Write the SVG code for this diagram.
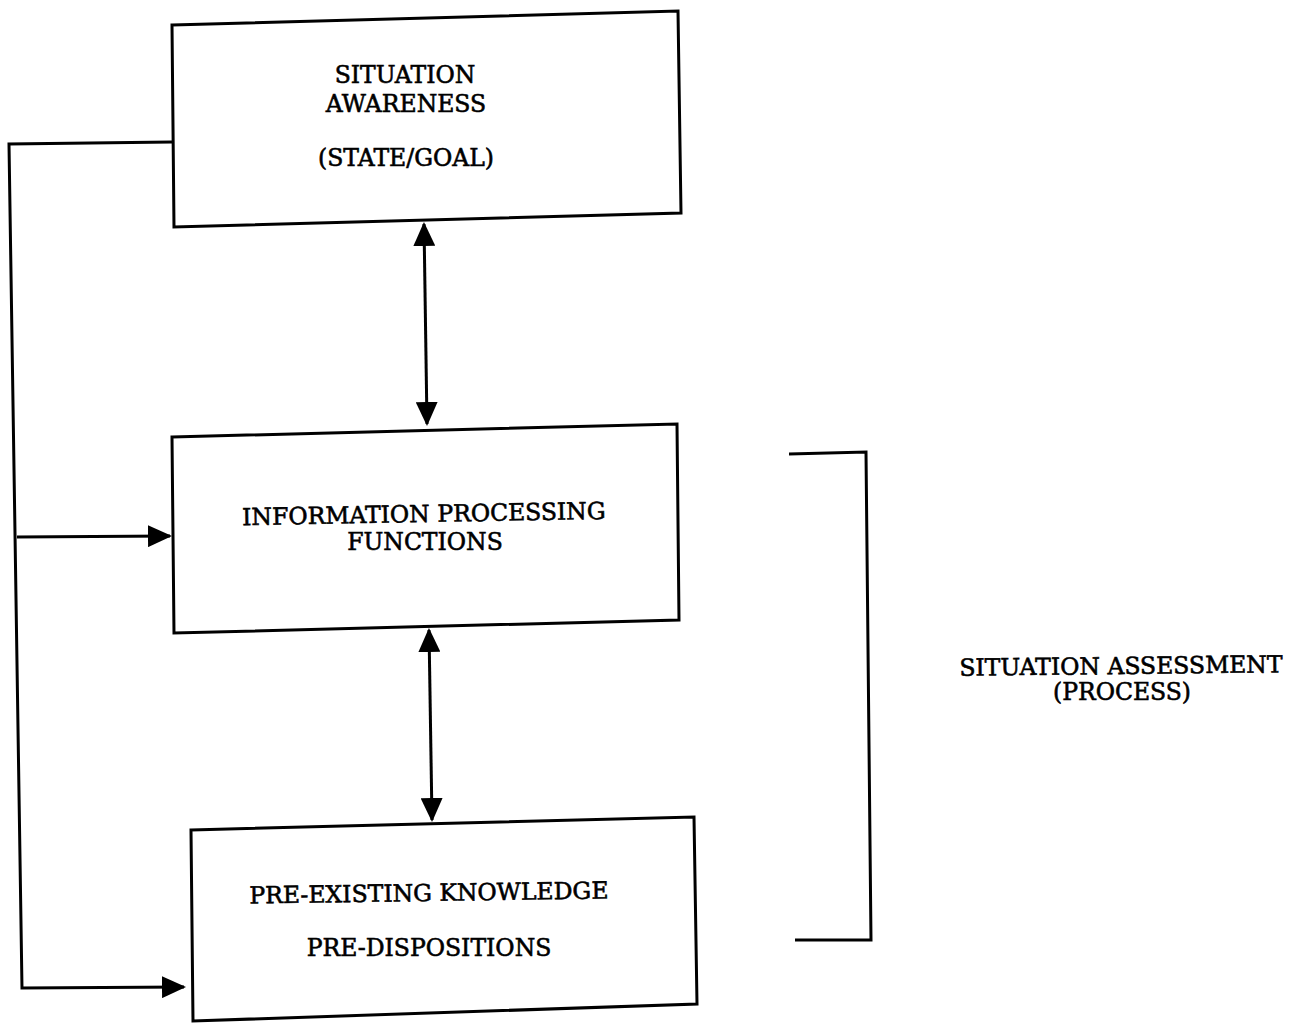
<svg xmlns="http://www.w3.org/2000/svg" width="1296" height="1024" viewBox="0 0 1296 1024">
<style>
.box{fill:none;stroke:#000;stroke-width:3;stroke-linejoin:miter}
.ln{fill:none;stroke:#000;stroke-width:3}
.t{font-family:"DejaVu Serif","Liberation Serif",serif;font-size:23.5px;fill:#000;stroke:#000;stroke-width:0.6;text-anchor:middle}
</style>
<defs>
<marker id="ah" viewBox="0 0 24 22" refX="22" refY="11" markerWidth="24" markerHeight="22" markerUnits="userSpaceOnUse" orient="auto-start-reverse">
<path d="M0,0 L24,11 L0,22 Z" fill="#000"/>
</marker>
</defs>
<rect width="1296" height="1024" fill="#fff"/>
<g id="node-sa">
<path class="box" d="M172,25 L678,11 L681,213 L174,227 Z"/>
<text class="t" x="405" y="83">SITUATION</text>
<text class="t" x="406" y="112">AWARENESS</text>
<text class="t" x="406" y="166">(STATE/GOAL)</text>
</g>
<g id="node-ipf">
<path class="box" d="M172,437 L677,424 L679,620 L174,633 Z"/>
<text class="t" x="424" y="522" transform="rotate(-1 424 522)">INFORMATION PROCESSING</text>
<text class="t" x="425" y="550">FUNCTIONS</text>
</g>
<g id="node-pk">
<path class="box" d="M191,830 L694,817 L697,1004 L193,1021 Z"/>
<text class="t" x="429" y="901" transform="rotate(-0.8 429 901)">PRE-EXISTING KNOWLEDGE</text>
<text class="t" x="429" y="956">PRE-DISPOSITIONS</text>
</g>
<g id="label-process">
<text class="t" x="1121" y="674" transform="rotate(-0.6 1121 674)">SITUATION ASSESSMENT</text>
<text class="t" x="1122" y="700">(PROCESS)</text>
</g>
<g id="connectors">
<path class="ln" d="M172,142 L9,144 L22,988 L184,987" marker-end="url(#ah)"/>
<path class="ln" d="M17,537 L170,536" marker-end="url(#ah)"/>
<path class="ln" d="M424,224 L427,424" marker-start="url(#ah)" marker-end="url(#ah)"/>
<path class="ln" d="M429,630 L432,820" marker-start="url(#ah)" marker-end="url(#ah)"/>
<path class="ln" d="M789,454 L866,452 L871,940 L795,940"/>
</g>
</svg>
